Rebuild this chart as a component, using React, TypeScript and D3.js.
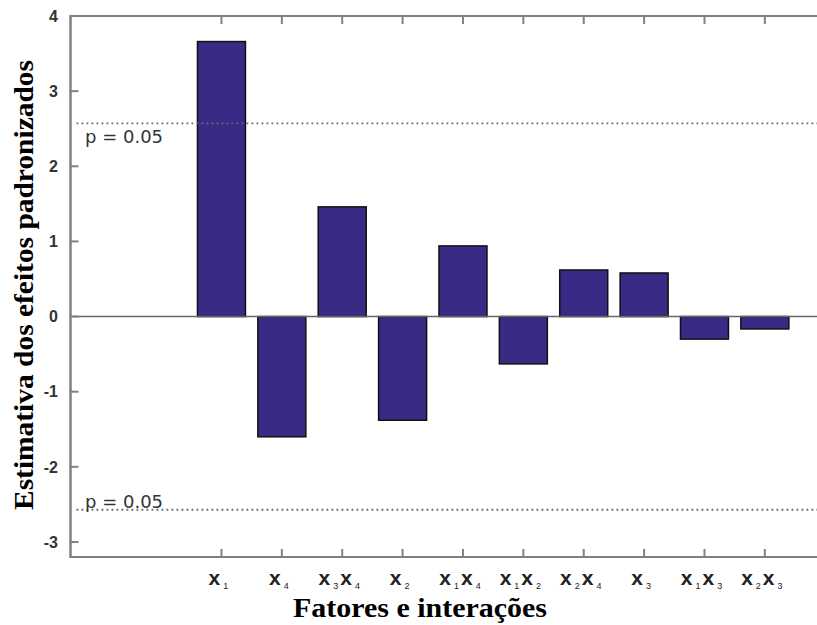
import React from "react";
import * as d3 from "d3";

const categories: string[][] = [
  ["1"], ["4"], ["3", "4"], ["2"], ["1", "4"], ["1", "2"], ["2", "4"], ["3"], ["1", "3"], ["2", "3"],
];
const effects: number[] = [3.66, -1.6, 1.46, -1.38, 0.94, -0.63, 0.62, 0.58, -0.3, -0.165];
const yTicks: number[] = [-3, -2, -1, 0, 1, 2, 3, 4];
const pCritical: number = 2.571;
const pLabel = "p = 0.05";
const xTitle = "Fatores e interações";
const yTitle = "Estimativa dos efeitos padronizados";

const W = 817;
const H = 625;
const left = 70.5;
const top = 16;
const bottom = 557;

export default function App() {
  const x = d3.scaleLinear().domain([-2.5, 10.5]).range([left, left + 13 * 60.38]);
  const y = d3.scaleLinear().domain([-3.2, 4]).range([bottom, top]);
  const barW = 48;
  const axisColor = "#808080";
  const right = W + 5;

  return (
    <svg width={W} height={H} style={{ position: "absolute", left: 0, top: 0, background: "#fff" }}>
      {/* bars */}
      {effects.map((v, i) => (
        <rect
          key={i}
          x={x(i) - barW / 2}
          y={y(Math.max(0, v))}
          width={barW}
          height={Math.abs(y(v) - y(0))}
          fill="#372b86"
          stroke="#111"
          strokeWidth={1.5}
        />
      ))}
      {/* zero line */}
      <line x1={left} x2={right} y1={y(0)} y2={y(0)} stroke="#666" strokeWidth={1.6} />
      {/* significance lines */}
      {[pCritical, -pCritical].map((v, i) => (
        <line
          key={i}
          x1={left + 6}
          x2={right}
          y1={y(v)}
          y2={y(v)}
          stroke="#6a6a6a"
          strokeWidth={1.8}
          strokeDasharray="1.8 3.2"
        />
      ))}
      <text x={85} y={y(pCritical) + 20} fontFamily="DejaVu Sans" fontSize={18} fill="#333">
        {pLabel}
      </text>
      <text x={85} y={y(-pCritical) - 2} fontFamily="DejaVu Sans" fontSize={18} fill="#333">
        {pLabel}
      </text>
      {/* axes frame */}
      <line x1={left} x2={left} y1={top - 1} y2={bottom + 1} stroke={axisColor} strokeWidth={2.5} />
      <line x1={left} x2={right} y1={top} y2={top} stroke={axisColor} strokeWidth={2} />
      <line x1={left} x2={right} y1={bottom} y2={bottom} stroke={axisColor} strokeWidth={2} />
      {/* y ticks */}
      {yTicks.map((t) => (
        <g key={t}>
          <line x1={left} x2={left + 8} y1={y(t)} y2={y(t)} stroke={axisColor} strokeWidth={2} />
          <text
            x={58}
            y={y(t)}
            dy="0.36em"
            textAnchor="end"
            fontFamily="Liberation Sans, Arial, sans-serif"
            fontWeight="bold"
            fontSize={16}
            fill="#333"
          >
            {t}
          </text>
        </g>
      ))}
      {/* x ticks */}
      {categories.map((c, i) => (
        <g key={i}>
          <line x1={x(i)} x2={x(i)} y1={top} y2={top + 8} stroke={axisColor} strokeWidth={2} />
          <line x1={x(i)} x2={x(i)} y1={bottom} y2={bottom - 8} stroke={axisColor} strokeWidth={2} />
          <text
            x={x(i) - 3}
            y={585}
            textAnchor="middle"
            fontFamily="Liberation Sans, Arial, sans-serif"
            fill="#222"
          >
            {c.map((s, j) => (
              <React.Fragment key={j}>
                <tspan fontWeight="bold" fontSize={21} dy={j === 0 ? 0 : -4} dx={j === 0 ? 0 : 2}>
                  x
                </tspan>
                <tspan fontSize={9} dy={4} dx={3}>
                  {s}
                </tspan>
              </React.Fragment>
            ))}
          </text>
        </g>
      ))}
      {/* titles */}
      <text
        x={293}
        y={617}
        fontFamily="Liberation Serif, Times New Roman, serif"
        fontWeight="bold"
        fontSize={28}
        textLength={254}
        lengthAdjust="spacingAndGlyphs"
        fill="#000"
      >
        {xTitle}
      </text>
      <text
        transform={`translate(33, 510) rotate(-90)`}
        fontFamily="Liberation Serif, Times New Roman, serif"
        fontWeight="bold"
        fontSize={28}
        textLength={450}
        lengthAdjust="spacingAndGlyphs"
        fill="#000"
      >
        {yTitle}
      </text>
    </svg>
  );
}
